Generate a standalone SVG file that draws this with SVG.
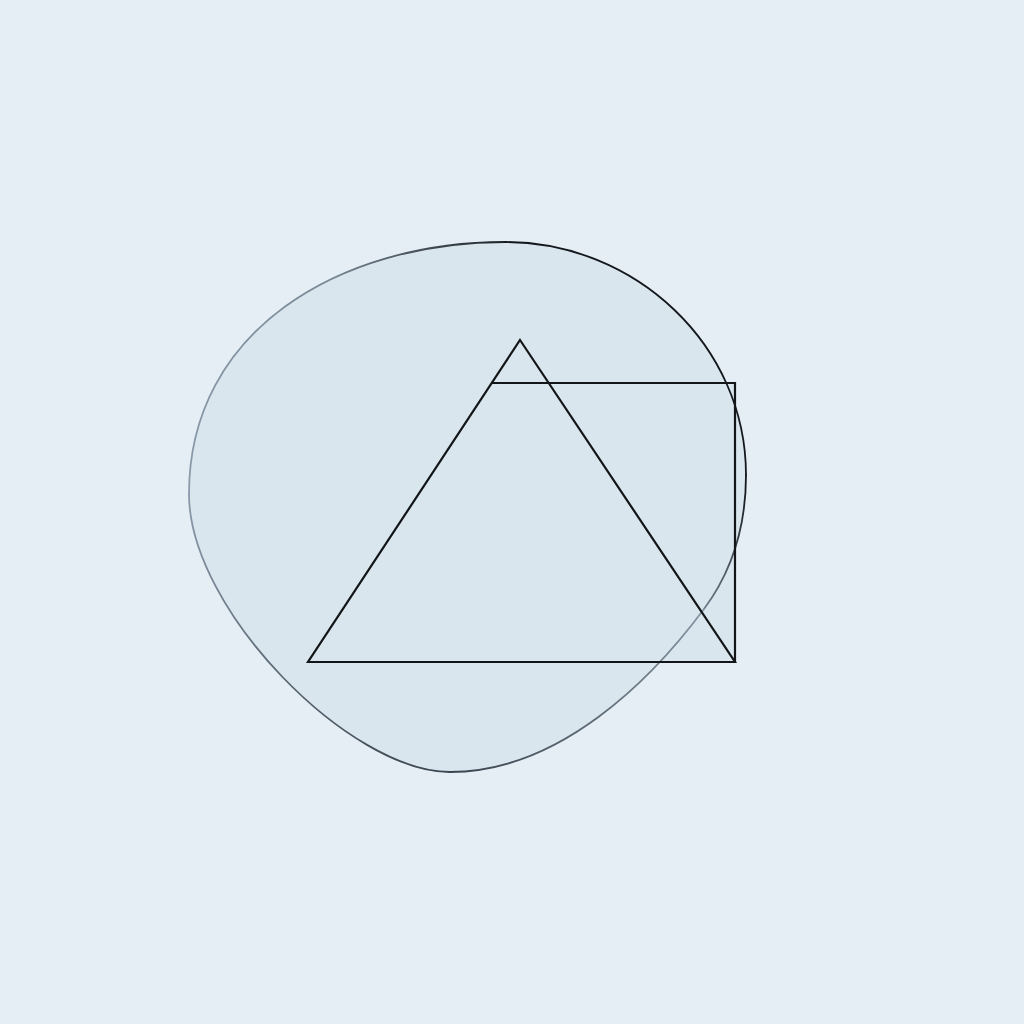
<svg xmlns="http://www.w3.org/2000/svg" width="1024" height="1024" viewBox="0 0 1024 1024">
  <defs>
    <linearGradient id="gTopLeft" gradientUnits="userSpaceOnUse" x1="189" y1="494" x2="505" y2="242">
      <stop offset="0" stop-color="#8b9bab"/>
      <stop offset="0.6" stop-color="#7a8996"/>
      <stop offset="1" stop-color="#1e2329"/>
    </linearGradient>
    <linearGradient id="gRight" gradientUnits="userSpaceOnUse" x1="746" y1="490" x2="704" y2="609">
      <stop offset="0" stop-color="#14181d"/>
      <stop offset="1" stop-color="#6e7d8a"/>
    </linearGradient>
    <linearGradient id="gBottom" gradientUnits="userSpaceOnUse" x1="704" y1="609" x2="450" y2="772">
      <stop offset="0" stop-color="#8595a3"/>
      <stop offset="1" stop-color="#3a444e"/>
    </linearGradient>
    <linearGradient id="gLeft" gradientUnits="userSpaceOnUse" x1="450" y1="772" x2="189" y2="494">
      <stop offset="0" stop-color="#3a444e"/>
      <stop offset="0.5" stop-color="#5d6976"/>
      <stop offset="1" stop-color="#8b9bab"/>
    </linearGradient>
    <style>
      .fill { fill: #d9e6ee; }
      .edge { fill: none; stroke-width: 1.8; stroke-linecap: round; }
      .line { fill: none; stroke: #121619; stroke-width: 2.2; stroke-linejoin: miter; }
    </style>
  </defs>
  <rect width="1024" height="1024" fill="#e5eef5"/>
  <g id="blob">
    <path class="fill" d="M505,242 C635,242 746,345 746,475 C746,530 730,574 704,609 C652,679 560,772 450,772 C350,772 189,610 189,494 C189,330 340,242 505,242 Z"/>
  </g>
  <g id="rectangle">
    <rect class="fill" x="492" y="383" width="243" height="279"/>
  </g>
  <g id="blob-outline">
    <path class="edge" stroke="url(#gTopLeft)" d="M189,494 C189,330 340,242 505,242"/>
    <path class="edge" stroke="#14181d" d="M505,242 C635,242 746,345 746,475"/>
    <path class="edge" stroke="url(#gRight)" d="M746,475 C746,530 730,574 704,609"/>
    <path class="edge" stroke="url(#gBottom)" d="M704,609 C652,679 560,772 450,772"/>
    <path class="edge" stroke="url(#gLeft)" d="M450,772 C350,772 189,610 189,494"/>
  </g>
  <g id="rectangle-outline">
    <path class="line" d="M492,383 H735 V662"/>
  </g>
  <g id="triangle">
    <path class="line" d="M520,340 L735,662 L308,662 Z"/>
  </g>
</svg>
